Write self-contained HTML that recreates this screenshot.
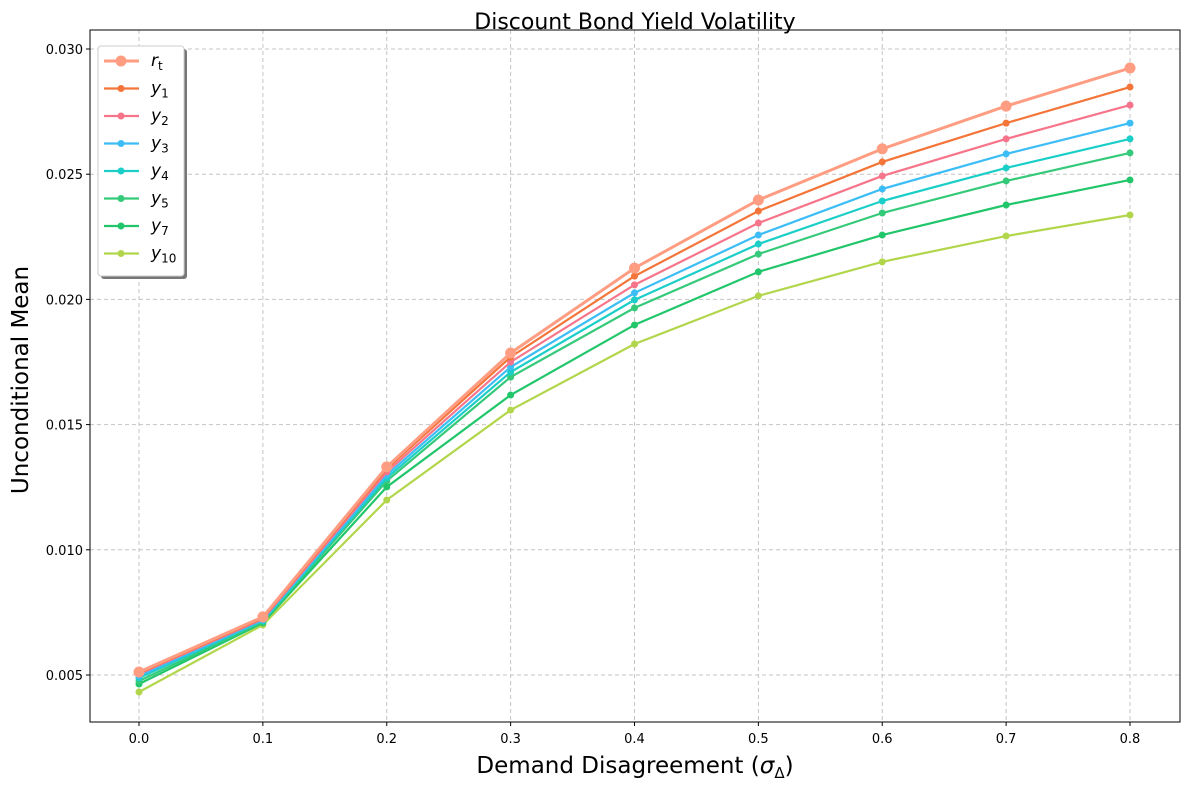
<!DOCTYPE html>
<html><head><meta charset="utf-8"><style>
body{margin:0;background:#fff;font-family:"Liberation Sans","DejaVu Sans",sans-serif}
svg text{font-family:"DejaVu Sans","Liberation Sans",sans-serif}
</style></head><body>
<svg id="chart" width="1190" height="790" xmlns="http://www.w3.org/2000/svg"></svg>
<script>
const xCats=[0,0.1,0.2,0.3,0.4,0.5,0.6,0.7,0.8];
const yTicks=[0.005,0.010,0.015,0.020,0.025,0.030];
const seriesNames=["r","y1","y2","y3","y4","y5","y7","y10"];
const subs=["t","1","2","3","4","5","7","10"];
const rT=[.00512,.00732,.01331,.01786,.02125,.02397,.02601,.02772,.02924];
const y1=[.00508,.00728,.01323,.0177,.02093,.02353,.02549,.02704,.02848];
const y2=[.00504,.00724,.01311,.0175,.02058,.02305,.02493,.02641,.02776];
const y3=[.00496,.0072,.01299,.0173,.02026,.02257,.02441,.02581,.02704];
const y4=[.00488,.00716,.01287,.0171,.01998,.02221,.02393,.02525,.02641];
const y5=[.00476,.00712,.01275,.0169,.01966,.02181,.02345,.02473,.02585];
const y7=[.00464,.00708,.01251,.01618,.01898,.0211,.02257,.02377,.02477];
const y10=[.00432,.007,.01199,.01558,.01822,.02014,.0215,.02253,.02337];
const allSeries=[rT,y1,y2,y3,y4,y5,y7,y10];
const colors=["#ff9d82","#f47539","#f7758a","#3cbdf5","#1bcfc8","#35c97a","#21c66a","#b2d64b"];
const NS="http://www.w3.org/2000/svg";
const svg=document.getElementById('chart');
const L=90,R=1180,T=30,B=722;
const xs=v=>139+v*(1130-139)/0.8;
const ys=v=>675-(v-0.005)*(675-49)/0.025;
function el(t,a,p){const e=document.createElementNS(NS,t);for(const k in a)e.setAttribute(k,a[k]);(p||svg).appendChild(e);return e;}
xCats.forEach(c=>{const g=el('line',{x1:xs(c),x2:xs(c),y1:T,y2:B,stroke:'#c4c4c4','stroke-dasharray':'4,3'});


const tk=el('line',{x1:xs(c),x2:xs(c),y1:B,y2:B+4,stroke:'#000'});


const t=el('text',{x:xs(c),y:B+21,'text-anchor':'middle','font-size':13});t.textContent=c.toFixed(1);

});
yTicks.forEach(v=>{const g=el('line',{x1:L,x2:R,y1:ys(v),y2:ys(v),stroke:'#c4c4c4','stroke-dasharray':'4,3'});


const tk=el('line',{x1:L-4,x2:L,y1:ys(v),y2:ys(v),stroke:'#000'});


const t=el('text',{x:L-7,y:ys(v)+5,'text-anchor':'end','font-size':13});t.textContent=v.toFixed(3);

});
for(let i=allSeries.length-1;i>=0;i--){const d=allSeries[i];const w=i==0?3:2.2,r=i==0?5.5:3.5;
const g=el('g',{});


const pl=el('polyline',{points:d.map((v,j)=>xs(xCats[j])+','+ys(v)).join(' '),fill:'none',stroke:colors[i],'stroke-width':w},g);


d.forEach((v,j)=>{const c=el('circle',{cx:xs(xCats[j]),cy:ys(v),r:r,fill:colors[i]},g);

});}
const ax=el('rect',{x:L,y:T,width:R-L,height:B-T,fill:'none',stroke:'#000','stroke-width':1});


const tt=el('text',{x:635,y:29,'text-anchor':'middle','font-size':22});tt.textContent='Discount Bond Yield Volatility';


const xt=el('text',{x:635,y:773,'text-anchor':'middle','font-size':23});xt.innerHTML='Demand Disagreement (<tspan font-style="italic">σ</tspan><tspan font-size="15" dy="5">Δ</tspan><tspan dy="-5">)</tspan>';


const yt=el('text',{x:28,y:380,'text-anchor':'middle','font-size':23,transform:'rotate(-90 28 380)'});yt.textContent='Unconditional Mean';


const lg=el('g',{});


el('rect',{x:101,y:49,width:86,height:230,rx:3,fill:'#777'},lg);
el('rect',{x:98,y:46,width:86,height:230,rx:3,fill:'#fff',stroke:'#ccc'},lg);
seriesNames.forEach((n,i)=>{const y=61+i*27.5;
const e=el('g',{},lg);


el('line',{x1:104,x2:139,y1:y,y2:y,stroke:colors[i],'stroke-width':i==0?3:2.2},e);
el('circle',{cx:121,cy:y,r:i==0?5.5:3.5,fill:colors[i]},e);
const t=el('text',{x:151,y:y+5,'font-size':17,'font-style':'italic'},e);
t.innerHTML=(i==0?'r':'y')+'<tspan font-size="12" font-style="normal" dy="4">'+subs[i]+'</tspan>';});
</script>
</body></html>
